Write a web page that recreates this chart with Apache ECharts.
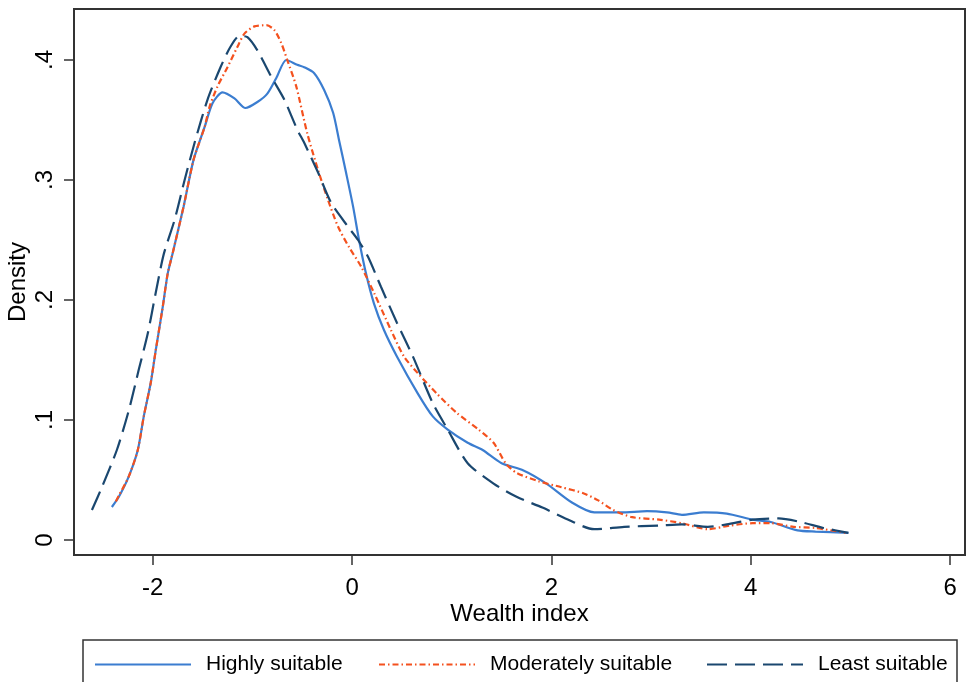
<!DOCTYPE html>
<html>
<head>
<meta charset="utf-8">
<script src="https://cdn.jsdelivr.net/npm/echarts@6/dist/echarts.min.js"></script>
<style>html,body{margin:0;padding:0;background:#fff}#c{width:969px;height:682px}</style>
</head>
<body>
<div id="c"></div>
<script>
// ---- data ----
const seriesNames = ['Highly suitable', 'Moderately suitable', 'Least suitable'];
const xTicks = [-2, 0, 2, 4, 6];
const yTicks = [0, 0.1, 0.2, 0.3, 0.4];

const highX = [-2.41,-2.34,-2.24,-2.15,-2.09,-2.02,-1.97,-1.90,-1.85,-1.80,-1.69,-1.59,-1.48,-1.40,-1.30,-1.18,-1.07,-0.95,-0.85,-0.76,-0.66,-0.55,-0.48,-0.38,-0.28,-0.19,-0.13,-0.06,0.01,0.07,0.14,0.22,0.32,0.45,0.66,0.81,0.96,1.16,1.31,1.50,1.72,1.95,2.21,2.43,2.70,2.96,3.16,3.31,3.53,3.76,4.02,4.20,4.47,4.65,4.98];
const highY = [0.0275,0.036,0.053,0.075,0.103,0.131,0.158,0.194,0.222,0.239,0.278,0.317,0.344,0.364,0.373,0.368,0.360,0.365,0.372,0.385,0.400,0.396,0.394,0.389,0.375,0.356,0.333,0.306,0.278,0.250,0.222,0.197,0.175,0.153,0.122,0.103,0.092,0.081,0.075,0.064,0.058,0.047,0.031,0.023,0.023,0.024,0.023,0.021,0.023,0.022,0.017,0.015,0.008,0.007,0.006];

const modX = [-2.37,-2.34,-2.24,-2.15,-2.09,-2.02,-1.97,-1.90,-1.85,-1.80,-1.69,-1.59,-1.48,-1.43,-1.35,-1.25,-1.15,-1.08,-0.98,-0.86,-0.78,-0.71,-0.65,-0.56,-0.45,-0.34,-0.24,-0.14,-0.03,0.09,0.22,0.39,0.52,0.66,0.85,1.05,1.27,1.42,1.54,1.65,1.87,2.10,2.32,2.47,2.62,2.81,3.08,3.31,3.57,3.79,4.02,4.20,4.43,4.65,4.95];
const modY = [0.032,0.037,0.053,0.075,0.103,0.131,0.158,0.194,0.222,0.239,0.278,0.317,0.344,0.361,0.378,0.394,0.411,0.422,0.428,0.429,0.425,0.414,0.400,0.378,0.339,0.308,0.283,0.261,0.244,0.228,0.206,0.175,0.153,0.139,0.122,0.106,0.092,0.081,0.064,0.056,0.049,0.044,0.039,0.033,0.025,0.019,0.017,0.014,0.009,0.012,0.014,0.014,0.011,0.010,0.006];

const leastX = [-2.61,-2.51,-2.36,-2.24,-2.14,-2.05,-1.97,-1.89,-1.78,-1.68,-1.58,-1.45,-1.32,-1.22,-1.13,-1.05,-0.95,-0.81,-0.68,-0.55,-0.48,-0.34,-0.21,-0.04,0.06,0.16,0.29,0.45,0.61,0.81,0.96,1.16,1.42,1.65,1.91,2.14,2.43,2.73,3.08,3.31,3.57,3.76,4.02,4.28,4.50,4.73,4.98];
const leastY = [0.025,0.044,0.075,0.108,0.142,0.172,0.206,0.238,0.267,0.300,0.331,0.367,0.394,0.411,0.420,0.419,0.408,0.386,0.367,0.342,0.331,0.306,0.281,0.261,0.250,0.236,0.211,0.181,0.153,0.114,0.092,0.064,0.047,0.036,0.027,0.018,0.009,0.011,0.012,0.013,0.011,0.013,0.017,0.018,0.015,0.010,0.006];

const colors = ['#3b7dd0', '#f4511e', '#1a476f'];
const FONT = 'Liberation Sans, Arial, Helvetica, sans-serif';

function pairs(xs, ys) { return xs.map((x, i) => [x, ys[i]]); }

const chart = echarts.init(document.getElementById('c'), null, {renderer: 'canvas'});

function legendAt(name, left) {
  return {
    data: [name],
    left: left,
    top: 654,
    orient: 'horizontal',
    padding: 0,
    itemWidth: 96,
    itemHeight: 14,
    itemStyle: {opacity: 0, color: 'transparent', borderWidth: 0},
    textStyle: {fontFamily: FONT, fontSize: 21, color: '#000', padding: [0, 0, 0, 10]}
  };
}

chart.setOption({
  animation: false,
  backgroundColor: '#fff',
  color: colors,
  grid: {
    left: 74, right: 4, top: 9, bottom: 127,
    containLabel: false,
    outerBoundsMode: 'none',
    show: true, borderColor: '#333', borderWidth: 2, backgroundColor: 'transparent'
  },
  legend: [
    legendAt(seriesNames[0], 94),
    legendAt(seriesNames[1], 378),
    legendAt(seriesNames[2], 706)
  ],
  graphic: [{
    type: 'rect',
    shape: {x: 83, y: 640, width: 874, height: 70},
    style: {fill: 'none', stroke: '#333', lineWidth: 1.5},
    silent: true
  }],
  xAxis: {
    type: 'value',
    min: -2.79, max: 6.15,
    name: 'Wealth index',
    nameLocation: 'middle',
    nameGap: 47,
    nameMoveOverlap: false,
    nameTextStyle: {fontFamily: FONT, fontSize: 24, color: '#000'},
    axisLine: {show: true, onZero: false, lineStyle: {color: '#333', width: 2}},
    axisTick: {show: true, length: 10, customValues: xTicks, lineStyle: {color: '#333', width: 1.5}},
    axisLabel: {customValues: xTicks, fontFamily: FONT, fontSize: 24, color: '#000', margin: 21,
      formatter: v => String(v)},
    splitLine: {show: false}
  },
  yAxis: {
    type: 'value',
    min: -0.0125, max: 0.4425,
    name: 'Density',
    nameLocation: 'middle',
    nameGap: 44,
    nameMoveOverlap: false,
    nameTextStyle: {fontFamily: FONT, fontSize: 24, color: '#000'},
    axisLine: {show: true, onZero: false, lineStyle: {color: '#333', width: 2}},
    axisTick: {show: true, length: 10, customValues: yTicks, lineStyle: {color: '#333', width: 1.5}},
    axisLabel: {customValues: yTicks, rotate: 90, fontFamily: FONT, fontSize: 24, color: '#000', margin: 17,
      formatter: v => v === 0 ? '0' : String(Math.round(v * 10) / 10).replace(/^0/, '')},
    splitLine: {show: false}
  },
  series: [
    {name: seriesNames[0], type: 'line', data: pairs(highX, highY), smooth: 0.25, symbol: 'none',
      lineStyle: {color: colors[0], width: 2.2, type: 'solid'}},
    {name: seriesNames[1], type: 'line', data: pairs(modX, modY), smooth: 0.25, symbol: 'none',
      lineStyle: {color: colors[1], width: 2.2, type: [6, 3, 1.5, 3]}},
    {name: seriesNames[2], type: 'line', data: pairs(leastX, leastY), smooth: 0.25, symbol: 'none',
      lineStyle: {color: colors[2], width: 2.2, type: [20, 8]}}
  ]
});
</script>
</body>
</html>
